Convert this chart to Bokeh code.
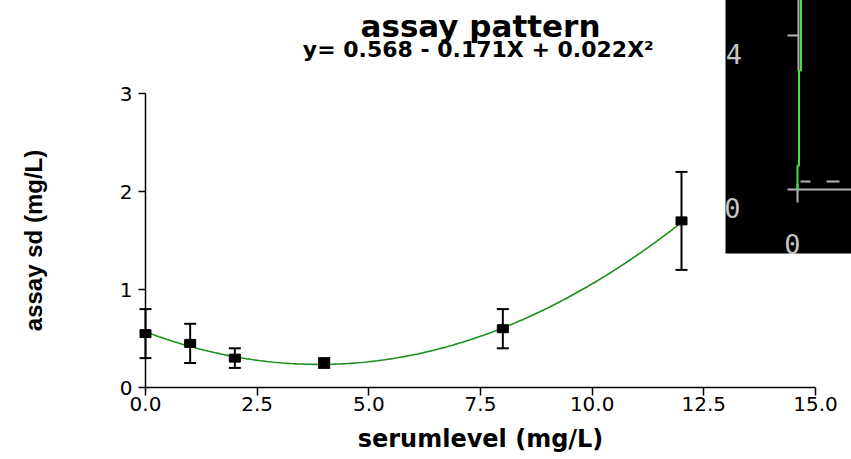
import numpy as np
from bokeh.plotting import figure
from bokeh.models import Range1d, FixedTicker
from bokeh.core.properties import value
from bokeh.embed import file_html
from bokeh.resources import INLINE

# ---- data ----
serum_level = [0, 1, 2, 4, 8, 12]
assay_sd = [0.55, 0.45, 0.30, 0.25, 0.60, 1.70]
sd_error = [0.25, 0.20, 0.10, 0.05, 0.20, 0.50]
fit_coef = [0.568, -0.171, 0.022]          # y = b0 + b1*X + b2*X^2 (from the subtitle)
x_ticks = [0, 2.5, 5, 7.5, 10, 12.5, 15]
x_tick_labels = ["0.0", "2.5", "5.0", "7.5", "10.0", "12.5", "15.0"]
y_ticks = [0, 1, 2, 3]
y_tick_labels = ["0", "1", "2", "3"]
title_text = "assay pattern"
subtitle_text = "y= 0.568 - 0.171X + 0.022X\u00b2"
x_label = "serumlevel (mg/L)"
y_label = "assay sd (mg/L)"
inset_texts = ["4", "0", "0"]

# ---- layout ----
W, H = 851, 459
FL, FR, FT, FB = 145, 815, 93, 387      # plot frame in canvas pixels
X0, X1, Y0, Y1 = 0, 15, 0, 3
PAGE = 0


def ix(img_x):
    """picture pixel -> data x"""
    return X0 + (img_x - PAGE - FL) / (FR - FL) * (X1 - X0)


def iy(img_y):
    """picture pixel -> data y"""
    return Y0 + (FB - (img_y - PAGE)) / (FB - FT) * (Y1 - Y0)


p = figure(width=W, height=H, x_range=Range1d(X0, X1), y_range=Range1d(Y0, Y1),
           output_backend="svg", toolbar_location=None,
           min_border_left=FL, min_border_right=W - FR,
           min_border_top=FT, min_border_bottom=H - FB)
p.grid.visible = False
p.outline_line_color = None
p.background_fill_color = "white"
p.border_fill_color = "white"

# fitted curve
xs = np.linspace(min(serum_level), max(serum_level), 200)
ys = fit_coef[0] + fit_coef[1] * xs + fit_coef[2] * xs ** 2
p.line(xs, ys, line_color="#1a8f1a", line_width=1.6)

# error bars
lower = [m - e for m, e in zip(assay_sd, sd_error)]
upper = [m + e for m, e in zip(assay_sd, sd_error)]
p.segment(x0=serum_level, y0=lower, x1=serum_level, y1=upper,
          line_color="black", line_width=2, level="overlay")
p.scatter(x=serum_level + serum_level, y=lower + upper, marker="dash", size=12,
          line_color="black", line_width=2, level="overlay")
# markers
p.rect(x=serum_level, y=assay_sd, width=11, height=8, width_units="screen",
       height_units="screen", fill_color="black", line_color="black", level="overlay")

# titles
p.text(x=[(X0 + X1) / 2], y=[iy(25)], text=[title_text], text_font=value("DejaVu Sans"),
       text_font_style="bold", text_font_size="31px", text_color="black",
       text_align="center", text_baseline="alphabetic", level="overlay")
p.text(x=[(X0 + X1) / 2 - 0.05], y=[iy(49)], text=[subtitle_text], text_font=value("DejaVu Sans"),
       text_font_style="bold", text_font_size="22px", text_color="black",
       text_align="center", text_baseline="alphabetic", level="overlay")

# axes
xa = p.xaxis[0]
xa.ticker = FixedTicker(ticks=x_ticks)
xa.major_label_overrides = dict(zip(x_ticks, x_tick_labels))
xa.minor_tick_line_color = None
xa.major_tick_in = 0
xa.major_tick_out = 8
xa.axis_line_width = 1.5
xa.major_tick_line_width = 1.5
xa.axis_line_color = "black"
xa.major_tick_line_color = "black"
xa.major_label_text_font = "DejaVu Sans"
xa.major_label_text_font_size = "20px"
xa.major_label_text_color = "black"
xa.major_label_standoff = 1
xa.axis_label = x_label
xa.axis_label_text_font = "DejaVu Sans"
xa.axis_label_text_font_size = "24px"
xa.axis_label_text_font_style = "bold"
xa.axis_label_text_color = "black"
xa.axis_label_standoff = 11

ya = p.yaxis[0]
ya.ticker = FixedTicker(ticks=y_ticks)
ya.major_label_overrides = dict(zip(y_ticks, y_tick_labels))
ya.minor_tick_line_color = None
ya.major_tick_in = 0
ya.major_tick_out = 7
ya.axis_line_width = 1.5
ya.major_tick_line_width = 1.5
ya.axis_line_color = "black"
ya.major_tick_line_color = "black"
ya.major_label_text_font = "DejaVu Sans"
ya.major_label_text_font_size = "20px"
ya.major_label_text_color = "black"
ya.major_label_standoff = 6
ya.axis_label = y_label
ya.axis_label_text_font = "Liberation Sans"
ya.axis_label_text_font_size = "24px"
ya.axis_label_text_font_style = "bold"
ya.axis_label_text_color = "black"
ya.axis_label_standoff = 70

# pasted black inset (top right)
p.quad(left=[ix(725)], right=[ix(870)], top=[iy(-20)], bottom=[iy(253)],
       fill_color="black", line_color=None, level="overlay")
gray = "#b4b4b4"
p.segment(x0=[ix(798), ix(797), ix(787), ix(787), ix(800), ix(826)],
          y0=[iy(-20), iy(183), iy(35), iy(189), iy(181), iy(181)],
          x1=[ix(798), ix(797), ix(798), ix(870), ix(810), ix(839)],
          y1=[iy(70), iy(202), iy(35), iy(189), iy(181), iy(181)],
          line_color=gray, line_width=2, level="overlay")
p.line(x=[ix(800.5), ix(800.5), ix(798.5), ix(798.5), ix(797), ix(797)],
       y=[iy(-20), iy(70), iy(70), iy(165), iy(165), iy(190)],
       line_color="#45e045", line_width=2, level="overlay")
p.text(x=[ix(733.5), ix(732), ix(792)], y=[iy(53), iy(207), iy(243)], text=inset_texts,
       text_font=value("DejaVu Sans Mono"), text_font_size="27px", text_color="#c4c4c4",
       text_align="center", text_baseline="alphabetic", level="overlay")

open("out.html", "w").write(file_html(p, INLINE))
